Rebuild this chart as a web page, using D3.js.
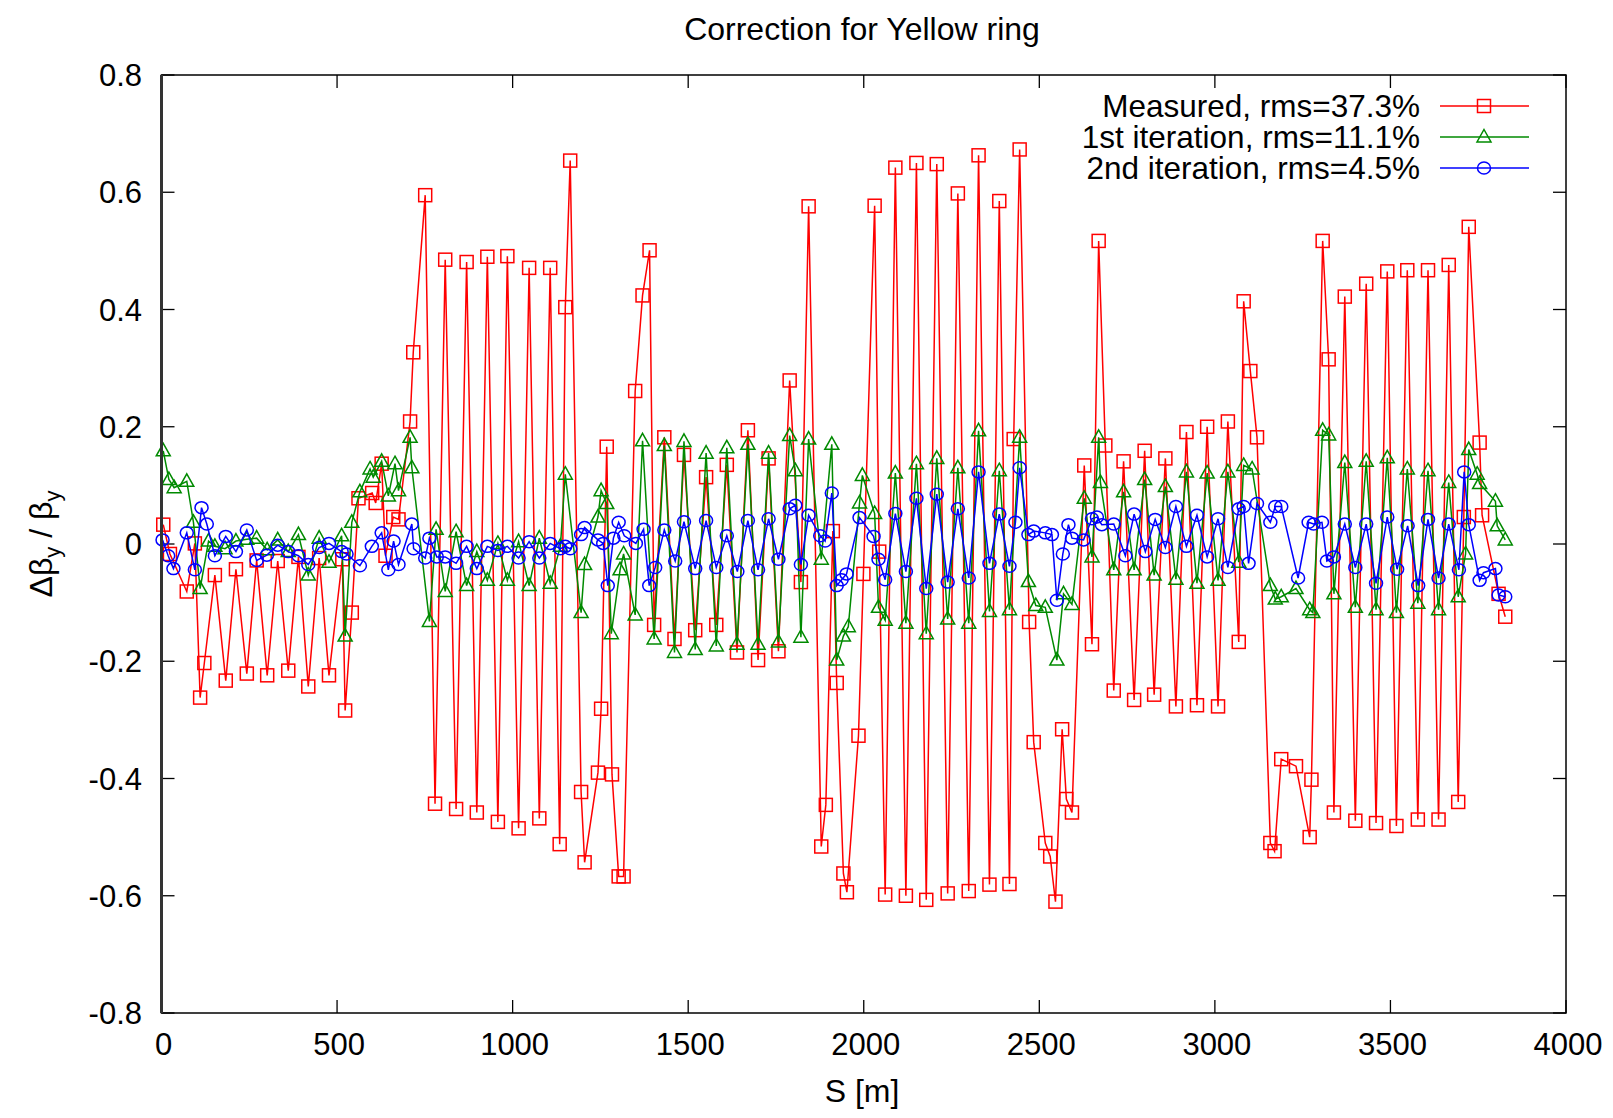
<!DOCTYPE html>
<html>
<head>
<meta charset="utf-8">
<script src="https://cdn.jsdelivr.net/npm/d3@7"></script>
<style>
  body { margin: 0; background: #fff; }
  svg { font-family: "Liberation Sans", Arial, Helvetica, sans-serif; }
</style>
</head>
<body>
<div id="chart"></div>
<script>
// Measured (red squares)
const sMeasured = [5,24,72,95,110,122,152,183,212,243,271,301,331,361,390,418,449,477,515,523,542,561,600,610,627,638,660,675,708,717,751,779,808,839,869,898,928,958,985,1017,1047,1076,1107,1134,1150,1164,1195,1205,1243,1252,1268,1283,1302,1316,1349,1370,1390,1403,1432,1461,1488,1520,1551,1580,1610,1639,1670,1699,1729,1757,1789,1821,1843,1879,1892,1912,1923,1942,1952,1985,1999,2031,2044,2061,2090,2120,2150,2178,2208,2239,2268,2299,2327,2358,2386,2415,2427,2444,2471,2484,2517,2531,2546,2565,2577,2593,2628,2650,2669,2688,2712,2740,2770,2800,2827,2859,2889,2919,2949,2978,3009,3037,3068,3082,3101,3120,3158,3170,3189,3231,3270,3275,3307,3324,3339,3370,3400,3431,3459,3491,3517,3548,3578,3607,3637,3666,3693,3709,3723,3754,3761,3808,3827];
const measured = [0.033,-0.017,-0.081,0.001,-0.262,-0.203,-0.053,-0.233,-0.043,-0.221,-0.028,-0.224,-0.029,-0.216,-0.022,-0.243,-0.024,-0.224,-0.026,-0.284,-0.117,0.078,0.087,0.07,0.137,-0.02,0.046,0.042,0.209,0.327,0.595,-0.443,0.485,-0.452,0.481,-0.458,0.49,-0.474,0.491,-0.485,0.471,-0.468,0.471,-0.512,0.404,0.654,-0.423,-0.543,-0.39,-0.281,0.166,-0.393,-0.567,-0.567,0.261,0.424,0.501,-0.138,0.182,-0.162,0.152,-0.147,0.114,-0.138,0.135,-0.185,0.194,-0.198,0.146,-0.183,0.279,-0.065,0.576,-0.516,-0.445,0.022,-0.237,-0.562,-0.594,-0.327,-0.051,0.577,-0.013,-0.598,0.642,-0.6,0.65,-0.607,0.648,-0.596,0.598,-0.592,0.663,-0.581,0.585,-0.58,0.179,0.673,-0.133,-0.338,-0.51,-0.533,-0.61,-0.316,-0.435,-0.458,0.134,-0.171,0.517,0.168,-0.25,0.141,-0.266,0.159,-0.257,0.146,-0.277,0.191,-0.275,0.2,-0.277,0.209,-0.167,0.414,0.295,0.182,-0.51,-0.524,-0.367,-0.379,-0.5,-0.402,0.517,0.315,-0.458,0.422,-0.472,0.444,-0.476,0.465,-0.481,0.467,-0.47,0.467,-0.47,0.476,-0.44,0.046,0.541,0.173,0.049,-0.085,-0.124];

// 1st iteration (green triangles)
const sIter1 = [5,21,36,72,91,110,134,152,181,212,243,271,301,331,361,390,418,449,477,513,523,542,565,594,603,627,646,665,675,708,713,763,782,808,839,869,898,928,958,985,1017,1047,1076,1107,1136,1150,1195,1205,1243,1252,1268,1281,1306,1316,1349,1370,1403,1432,1461,1488,1520,1551,1580,1610,1639,1670,1699,1729,1757,1789,1805,1821,1843,1879,1909,1923,1942,1956,1988,1996,2031,2042,2061,2090,2120,2150,2178,2208,2239,2268,2299,2327,2358,2386,2415,2444,2469,2490,2517,2550,2569,2593,2628,2650,2669,2674,2712,2740,2770,2800,2827,2859,2889,2919,2949,2978,3009,3037,3068,3082,3106,3158,3172,3189,3231,3270,3279,3307,3324,3339,3370,3400,3431,3459,3491,3517,3548,3578,3607,3637,3666,3693,3714,3723,3747,3754,3799,3804,3827];
const iter1 = [0.159,0.11,0.096,0.107,0.037,-0.076,0.005,-0.004,-0.008,0.005,0.008,0.01,-0.01,0.007,-0.013,0.016,-0.053,0.01,-0.031,0.014,-0.157,0.037,0.089,0.128,0.114,0.141,0.082,0.137,0.091,0.182,0.13,-0.132,0.025,-0.081,0.021,-0.071,-0.013,-0.062,0.001,-0.062,0.004,-0.071,0.01,-0.067,-0.004,0.119,-0.117,-0.035,0.046,0.091,0.069,-0.153,-0.044,-0.017,-0.121,0.176,-0.162,0.168,-0.185,0.175,-0.18,0.155,-0.174,0.164,-0.171,0.17,-0.171,0.155,-0.167,0.185,0.125,-0.159,0.179,-0.026,0.17,-0.198,-0.157,-0.141,0.07,0.117,0.052,-0.108,-0.13,0.121,-0.135,0.137,-0.153,0.146,-0.128,0.13,-0.135,0.193,-0.115,0.125,-0.112,0.182,-0.064,-0.105,-0.108,-0.198,-0.085,-0.103,0.078,-0.022,0.182,0.105,-0.044,0.089,-0.044,0.11,-0.053,0.098,-0.06,0.123,-0.067,0.121,-0.062,0.123,-0.031,0.134,0.128,-0.071,-0.094,-0.09,-0.076,-0.112,-0.117,0.194,0.186,-0.085,0.139,-0.108,0.141,-0.112,0.147,-0.117,0.128,-0.101,0.125,-0.112,0.105,-0.09,-0.017,0.161,0.119,0.103,0.073,0.031,0.007];

// 2nd iteration (blue circles)
const sIter2 = [3,19,34,72,95,114,129,152,183,212,243,271,300,331,361,390,418,449,477,513,527,565,599,627,646,661,675,713,718,751,763,784,808,839,869,898,928,958,985,1017,1047,1076,1107,1136,1150,1164,1195,1205,1243,1258,1271,1287,1302,1318,1351,1373,1389,1406,1432,1463,1488,1520,1551,1580,1610,1640,1670,1699,1729,1757,1789,1805,1821,1843,1876,1890,1909,1923,1937,1951,1988,2028,2042,2061,2090,2120,2150,2178,2208,2239,2268,2299,2327,2358,2386,2415,2432,2444,2469,2484,2517,2536,2550,2567,2583,2593,2626,2650,2664,2678,2712,2745,2770,2802,2830,2859,2889,2919,2949,2978,3009,3037,3068,3082,3096,3120,3158,3172,3189,3237,3267,3281,3305,3319,3339,3370,3400,3431,3459,3491,3519,3549,3579,3607,3637,3666,3695,3710,3723,3754,3765,3799,3808,3827];
const iter2 = [0.007,-0.02,-0.042,0.019,-0.044,0.062,0.034,-0.02,0.013,-0.013,0.024,-0.028,-0.019,-0.002,-0.013,-0.02,-0.035,-0.006,0.001,-0.013,-0.017,-0.037,-0.004,0.019,-0.044,0.005,-0.035,0.034,-0.008,-0.024,0.01,-0.022,-0.022,-0.033,-0.004,-0.042,-0.004,-0.011,-0.004,-0.024,0.004,-0.024,0.001,-0.008,-0.004,-0.008,0.016,0.028,0.007,0.001,-0.071,0.01,0.037,0.014,0.001,0.025,-0.071,-0.04,0.024,-0.029,0.038,-0.042,0.04,-0.04,0.014,-0.047,0.04,-0.044,0.043,-0.026,0.06,0.066,-0.035,0.049,0.014,0.005,0.087,-0.071,-0.061,-0.051,0.045,0.013,-0.026,-0.061,0.052,-0.047,0.078,-0.076,0.085,-0.065,0.06,-0.058,0.123,-0.033,0.051,-0.038,0.037,0.13,0.016,0.022,0.019,0.016,-0.096,-0.017,0.033,0.01,0.007,0.043,0.046,0.033,0.034,-0.02,0.051,-0.013,0.042,-0.006,0.064,-0.004,0.049,-0.022,0.043,-0.04,0.06,0.064,-0.033,0.069,0.037,0.064,0.064,-0.058,0.037,0.034,0.037,-0.029,-0.022,0.034,-0.04,0.034,-0.067,0.046,-0.043,0.031,-0.071,0.042,-0.058,0.034,-0.044,0.123,0.033,-0.062,-0.049,-0.042,-0.087,-0.09];

const xTicks = [0, 500, 1000, 1500, 2000, 2500, 3000, 3500, 4000];
const yTicks = [0.8, 0.6, 0.4, 0.2, 0, -0.2, -0.4, -0.6, -0.8];
const yTickLabels = ["0.8", "0.6", "0.4", "0.2", "0", "-0.2", "-0.4", "-0.6", "-0.8"];

const series = [
    { name: "Measured, rms=37.3%", s: sMeasured, v: measured, color: "#ff0000", marker: "square" },
    { name: "1st iteration, rms=11.1%", s: sIter1, v: iter1, color: "#008a00", marker: "triangle" },
    { name: "2nd iteration, rms=4.5%", s: sIter2, v: iter2, color: "#0000ff", marker: "circle" }
];

const width = 1613, height = 1118;
const plotLeft = 161.5, plotRight = 1566, plotTop = 75, plotBottom = 1013;

const svg = d3.select("#chart").append("svg")
    .attr("width", width)
    .attr("height", height);

const x = d3.scaleLinear().domain([0, 4000]).range([plotLeft, plotRight]);
const y = d3.scaleLinear().domain([-0.8, 0.8]).range([plotBottom, plotTop]);

// ticks (inward, mirrored on all sides)
const tickLen = 13;
const ticks = svg.append("g").attr("stroke", "#000").attr("stroke-width", 1.3);
xTicks.forEach(t => {
    ticks.append("line").attr("x1", x(t)).attr("x2", x(t)).attr("y1", plotBottom).attr("y2", plotBottom - tickLen);
    ticks.append("line").attr("x1", x(t)).attr("x2", x(t)).attr("y1", plotTop).attr("y2", plotTop + tickLen);
});
yTicks.forEach(t => {
    ticks.append("line").attr("x1", plotLeft).attr("x2", plotLeft + tickLen).attr("y1", y(t)).attr("y2", y(t));
    ticks.append("line").attr("x1", plotRight).attr("x2", plotRight - tickLen).attr("y1", y(t)).attr("y2", y(t));
});

// tick labels
svg.append("g").selectAll("text")
    .data(xTicks)
    .join("text")
    .attr("x", d => x(d) + 2)
    .attr("y", 1055)
    .attr("text-anchor", "middle")
    .attr("font-size", 31)
    .text(d => d);

svg.append("g").selectAll("text")
    .data(yTicks)
    .join("text")
    .attr("x", 142)
    .attr("y", d => y(d) + 11)
    .attr("text-anchor", "end")
    .attr("font-size", 31)
    .text((d, i) => yTickLabels[i]);

// series
const lineGen = (s, v) => d3.line()
    .x(i => x(s[i]))
    .y(i => y(v[i]))(d3.range(s.length));

function drawMarker(g, kind, cx, cy, color) {
    if (kind === "square") {
        g.append("rect").attr("x", cx - 6.5).attr("y", cy - 6.5).attr("width", 13).attr("height", 13)
            .attr("fill", "none").attr("stroke", color).attr("stroke-width", 1.5);
    } else if (kind === "triangle") {
        g.append("path").attr("d", `M${cx},${cy - 7.5}L${cx + 7},${cy + 5}L${cx - 7},${cy + 5}Z`)
            .attr("fill", "none").attr("stroke", color).attr("stroke-width", 1.5);
    } else {
        g.append("ellipse").attr("cx", cx).attr("cy", cy).attr("rx", 6.5).attr("ry", 6)
            .attr("fill", "none").attr("stroke", color).attr("stroke-width", 1.5);
    }
}

series.forEach(sr => {
    const g = svg.append("g");
    g.append("path")
        .attr("d", lineGen(sr.s, sr.v))
        .attr("fill", "none")
        .attr("stroke", sr.color)
        .attr("stroke-width", 1.5);
    sr.s.forEach((s, i) => drawMarker(g, sr.marker, x(s), y(sr.v[i]), sr.color));
});

// frame
svg.append("rect")
    .attr("x", plotLeft).attr("y", plotTop)
    .attr("width", plotRight - plotLeft).attr("height", plotBottom - plotTop)
    .attr("fill", "none").attr("stroke", "#000").attr("stroke-width", 1.5);
svg.append("line")
    .attr("x1", plotLeft).attr("x2", plotLeft).attr("y1", plotTop).attr("y2", plotBottom)
    .attr("stroke", "#333").attr("stroke-width", 3);

// legend
const legend = svg.append("g");
series.forEach((sr, i) => {
    const ly = 106 + i * 31;
    legend.append("text")
        .attr("x", 1420).attr("y", ly + 11)
        .attr("text-anchor", "end")
        .attr("font-size", 31.5)
        .text(sr.name);
    legend.append("line")
        .attr("x1", 1440).attr("x2", 1529).attr("y1", ly).attr("y2", ly)
        .attr("stroke", sr.color).attr("stroke-width", 1.5);
    drawMarker(legend, sr.marker, 1484, ly, sr.color);
});

// title and axis labels
svg.append("text")
    .attr("x", 862).attr("y", 40)
    .attr("text-anchor", "middle")
    .attr("font-size", 32)
    .text("Correction for Yellow ring");

svg.append("text")
    .attr("x", 862).attr("y", 1102)
    .attr("text-anchor", "middle")
    .attr("font-size", 32)
    .text("S [m]");

const yl = svg.append("text")
    .attr("transform", "translate(52,544) rotate(-90)")
    .attr("text-anchor", "middle")
    .attr("font-size", 32);
yl.append("tspan").text("Δβ");
yl.append("tspan").attr("font-size", 22).attr("dy", 8).text("y");
yl.append("tspan").attr("dy", -8).text(" / β");
yl.append("tspan").attr("font-size", 22).attr("dy", 8).text("y");
</script>
</body>
</html>
